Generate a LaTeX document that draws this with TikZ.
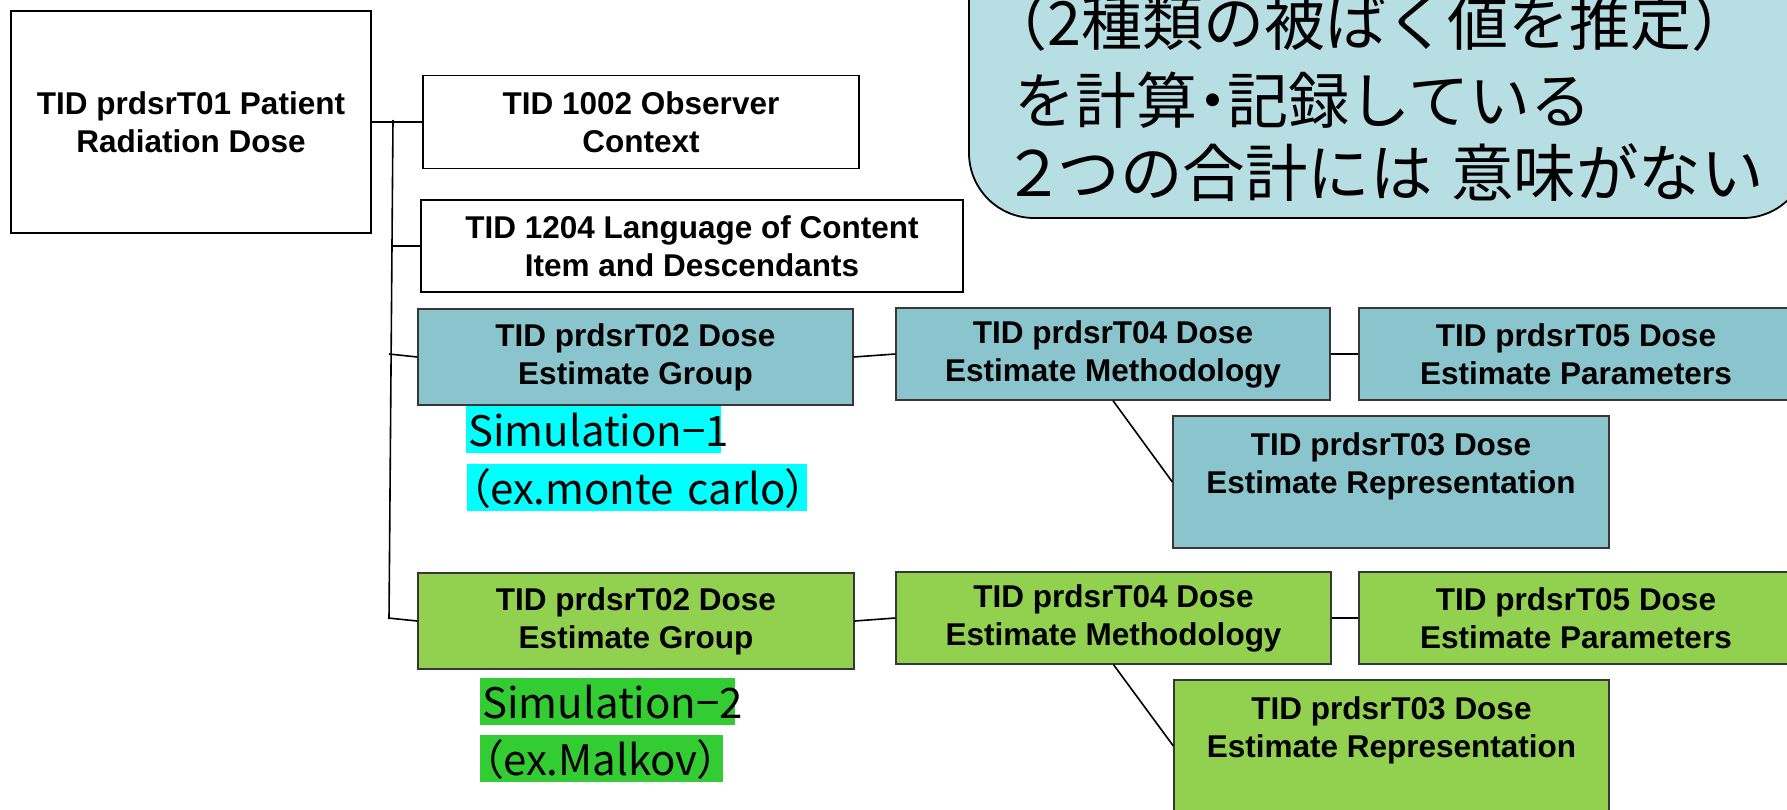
\documentclass[tikz,border=0pt]{standalone}
\usepackage{fontspec}
\setmainfont{Liberation Sans}
\newfontfamily\jpfont{Noto Sans CJK JP}
\newfontfamily\jpprop{Noto Sans CJK JP}[RawFeature=+palt]
\definecolor{cCallout}{RGB}{183,222,227}
\definecolor{cBlue}{RGB}{138,196,204}
\definecolor{cGreen}{RGB}{146,208,80}
\definecolor{cSimOne}{RGB}{0,255,255}
\definecolor{cSimTwo}{RGB}{51,204,51}
\definecolor{cEdge}{RGB}{55,55,55}
\begin{document}
\begin{tikzpicture}[x=1pt,y=-1pt,
  tidbox/.style={draw=black, line width=1.3pt, inner sep=0pt, align=center,
    font=\bfseries\fontsize{31.5}{38}\selectfont},
  whitebox/.style={tidbox, fill=white},
  blueset/.style={tidbox, draw=cEdge, fill=cBlue},
  greenset/.style={tidbox, draw=cEdge, fill=cGreen},
  link/.style={line width=1.6pt, black},
  simlabel/.style={anchor=north west, inner xsep=2pt, inner ysep=0pt,
    font=\jpprop\fontsize{42}{42}\selectfont, text height=40pt, text depth=7pt, align=left},
  callline/.style={anchor=base west, inner sep=0pt, font=\jpfont\fontsize{61}{73}\selectfont}
]
\clip (0,0) rectangle (1787,809);
\fill[white] (0,0) rectangle (1787,809);

% speech box in the top right corner
\draw[line width=1.8pt, fill=cCallout, rounded corners=65pt] (969,-200) rectangle (1808,218);
\node[callline] (note1) at (986,45) {（2種類の被ばく値を推定）};
\node[callline] (note2) at (1014,123) {を計算{\jpprop・}記録している};
\node[callline, font=\jpfont\fontsize{62.5}{73}\selectfont] (note3) at (1010,196) {{\jpprop ２}つの合計には\hspace{0.3em}意味がない};

% root template and its fixed children
\node[whitebox, minimum width=360pt, minimum height=222pt] (root) at (191,122) {TID prdsrT01 Patient\\Radiation Dose};
\node[whitebox, minimum width=436pt, minimum height=93pt] (obs) at (641,122) {TID 1002 Observer\\Context};
\node[whitebox, minimum width=542pt, minimum height=92pt] (lang) at (692,246) {TID 1204 Language of Content\\Item and Descendants};

% first dose estimate group
\node[blueset, minimum width=435pt, minimum height=96pt] (grpA) at (635.5,357) {TID prdsrT02 Dose\\Estimate Group};
\node[blueset, minimum width=434pt, minimum height=92pt] (methA) at (1113,354) {TID prdsrT04 Dose\\Estimate Methodology};
\node[blueset, minimum width=434pt, minimum height=92pt] (parA) at (1576,354) {TID prdsrT05 Dose\\Estimate Parameters};
\node[blueset, minimum width=436pt, minimum height=132pt] (repA) at (1391,482) {TID prdsrT03 Dose\\Estimate Representation\\\mbox{}};

% second dose estimate group
\node[greenset, minimum width=436pt, minimum height=96pt] (grpB) at (636,621) {TID prdsrT02 Dose\\Estimate Group};
\node[greenset, minimum width=435pt, minimum height=92pt] (methB) at (1113.5,618) {TID prdsrT04 Dose\\Estimate Methodology};
\node[greenset, minimum width=434pt, minimum height=92pt] (parB) at (1576,618) {TID prdsrT05 Dose\\Estimate Parameters};
\node[greenset, minimum width=435pt, minimum height=132pt] (repB) at (1391.5,746) {TID prdsrT03 Dose\\Estimate Representation\\\mbox{}};

% method labels
\node[simlabel, fill=cSimOne, text width=251pt] (simA) at (466,406) {\mbox{Simulation−1}};
\node[simlabel, fill=cSimOne, text width=336pt] (simAx) at (467,464) {\mbox{（ex.monte carlo）}};
\node[simlabel, fill=cSimTwo, text width=251pt] (simB) at (480,678) {\mbox{Simulation−2}};
\node[simlabel, fill=cSimTwo, text width=239pt] (simBx) at (480,735) {\mbox{（ex.Malkov）}};

% tree connectors
\coordinate (busTop) at (393,120);
\coordinate (busBot) at (389,619);
\coordinate (busLang) at (393,246);
\coordinate (busA) at (389,354);
\coordinate (busB) at (388,618);
\draw[link] (busTop) -- (busBot);
\draw[link] (root.east) -- (obs.west);
\draw[link] (busLang) -- (lang.west);
\draw[link] (busA) -- (grpA.west);
\draw[link] (busB) -- (grpB.west);

\draw[link] (grpA.east) -- (methA.west);
\draw[link] (methA.east) -- (parA.west);
\draw[link] (methA.south) -- (repA.west);
\draw[link] (grpB.east) -- (methB.west);
\draw[link] (methB.east) -- (parB.west);
\draw[link] (methB.south) -- (repB.west);
\end{tikzpicture}
\end{document}
